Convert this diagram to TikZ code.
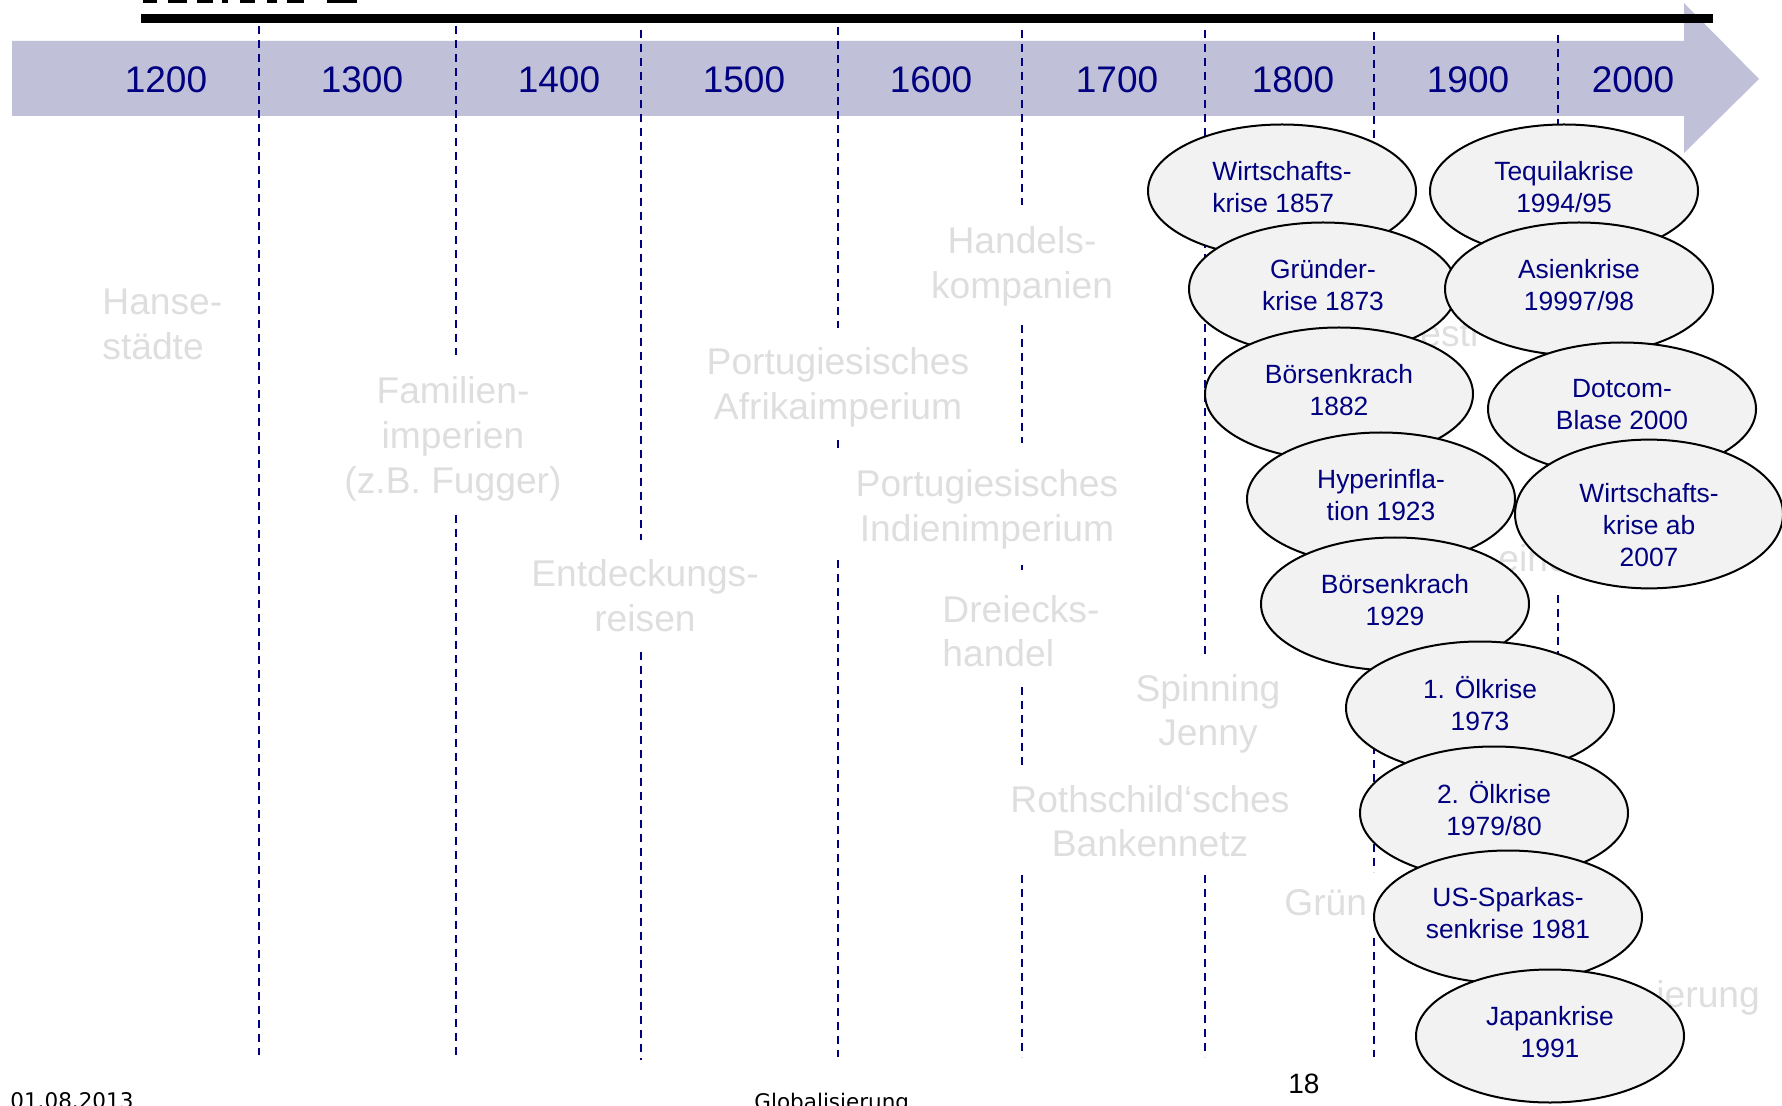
\documentclass[tikz,border=0pt]{standalone}
\usepackage{fontspec}
\setmainfont{Liberation Sans}
\newfontfamily\footfont{DejaVu Sans}
\usetikzlibrary{shapes.geometric}
\definecolor{navy}{RGB}{0,0,128}
\definecolor{bandcol}{RGB}{192,192,216}
\definecolor{faint}{RGB}{222,222,222}
\definecolor{ellfill}{RGB}{242,242,242}
\begin{document}
\begin{tikzpicture}[x=0.5pt,y=-0.5pt,
  yearlbl/.style={text=navy,font=\fontsize{18.5}{22}\selectfont,anchor=base,inner sep=0pt},
  ghost/.style={text=faint,font=\fontsize{18.6}{22.3}\selectfont,inner sep=0pt,anchor=base},
  crisis/.style={ellipse,draw=black,line width=1pt,fill=ellfill,minimum width=134pt,minimum height=66.5pt,inner sep=0pt,text=navy,align=center,font=\fontsize{13.2}{16}\selectfont,text depth=4.5pt},
  divider/.style={draw=navy,line width=1.25pt,dash pattern=on 4pt off 3pt},
  foot/.style={font=\footfont\fontsize{10.75}{13}\selectfont,anchor=base west,inner sep=0pt,text=black},
]
\useasboundingbox (0,0) rectangle (1782,1106);
% title fragments (cut off at the top edge)
\foreach \a/\b in {143/157,168/187,197/213,222/228,240/255,267/277,287/304,327/357}
  \fill[black] (\a,0) rectangle (\b,3);
% timeline band with arrow head
\fill[bandcol] (12,41) -- (1684,41) -- (1684,3) -- (1759,79) -- (1684,153) -- (1684,116) -- (12,116) -- cycle;
% dashed century dividers
\draw[divider] (259,26) -- (259,1055);
\draw[divider] (456,26) -- (456,355);
\draw[divider] (456,515) -- (456,1055);
\draw[divider] (641,30) -- (641,540);
\draw[divider] (641,652) -- (641,1060);
\draw[divider] (838,27) -- (838,328);
\draw[divider] (838,440) -- (838,448);
\draw[divider] (838,560) -- (838,1057);
\draw[divider] (1022,30) -- (1022,205);
\draw[divider] (1022,325) -- (1022,443);
\draw[divider] (1022,565) -- (1022,570);
\draw[divider] (1022,687) -- (1022,765);
\draw[divider] (1022,875) -- (1022,1057);
\draw[divider] (1205,30) -- (1205,655);
\draw[divider] (1205,875) -- (1205,1057);
\draw[divider] (1374,32) -- (1374,872);
\draw[divider] (1374,938) -- (1374,1057);
\draw[divider] (1558,35) -- (1558,540);
\draw[divider] (1558,595) -- (1558,1057);
% black bar
\fill[black] (141,14) rectangle (1713,23);
% years
\node[yearlbl] (y1200) at (166,93) {1200};
\node[yearlbl] (y1300) at (362,93) {1300};
\node[yearlbl] (y1400) at (559,93) {1400};
\node[yearlbl] (y1500) at (744,93) {1500};
\node[yearlbl] (y1600) at (931,93) {1600};
\node[yearlbl] (y1700) at (1117,93) {1700};
\node[yearlbl] (y1800) at (1293,93) {1800};
\node[yearlbl] (y1900) at (1468,93) {1900};
\node[yearlbl] (y2000) at (1633,93) {2000};
% faint background texts (anchored at the baseline of their last line)
\node[ghost,align=left,anchor=base west] (hanse) at (102,359.6) {Hanse-\\städte};
\node[ghost,align=center] (familien) at (453,493.2) {Familien-\\imperien\\(z.B. Fugger)};
\node[ghost,align=center] (afrika) at (838,419.6) {Portugiesisches\\Afrikaimperium};
\node[ghost,align=center] (indien) at (987,541.6) {Portugiesisches\\Indienimperium};
\node[ghost,align=center] (handel) at (1022,298.6) {Handels-\\kompanien};
\node[ghost,align=center] (entdeck) at (645,631.6) {Entdeckungs-\\reisen};
\node[ghost,align=left,anchor=base west] (dreieck) at (942,666.6) {Dreiecks-\\handel};
\node[ghost,align=center] (spinning) at (1208,745.6) {Spinning\\Jenny};
\node[ghost,align=center] (rothschild) at (1150,856.6) {Rothschild‘sches\\Bankennetz};
\node[ghost,anchor=base west] (gruen) at (1284,915) {Grün};
\node[ghost,anchor=base west] (esti) at (1420,347) {esti};
\node[ghost,anchor=base west] (eine) at (1498,572) {eine};
\node[ghost,anchor=base west] (ierung) at (1656,1007) {ierung};
% crises
\node[crisis,align=left] (e1) at (1282,191) {Wirtschafts-\\krise 1857};
\node[crisis] (e2) at (1564,191) {Tequilakrise\\1994/95};
\node[crisis] (e3) at (1323,289) {Gründer-\\krise 1873};
\node[crisis] (e4) at (1579,289) {Asienkrise\\19997/98};
\node[crisis] (e5) at (1339,394) {Börsenkrach\\1882};
\node[crisis] (e6) at (1622,409) {Dotcom-\\Blase 2000};
\node[crisis] (e7) at (1381,499) {Hyperinfla-\\tion 1923};
\node[crisis,text height=52.6pt,text depth=0pt] (e8) at (1649,514) {Wirtschafts-\\krise ab\\2007};
\node[crisis] (e9) at (1395,604) {Börsenkrach\\1929};
\node[crisis] (e10) at (1480,708) {1. Ölkrise\\1973};
\node[crisis] (e11) at (1494,813) {2. Ölkrise\\1979/80};
\node[crisis] (e12) at (1508,917) {US-Sparkas-\\senkrise 1981};
\node[crisis] (e13) at (1550,1036) {Japankrise\\1991};
% footer
\node[foot] (date) at (10,1108) {01.08.2013};
\node[foot] (topic) at (754,1109) {Globalisierung};
\node[font=\fontsize{14}{17}\selectfont,anchor=base west,inner sep=0pt] (page) at (1288,1093) {18};
\end{tikzpicture}
\end{document}
